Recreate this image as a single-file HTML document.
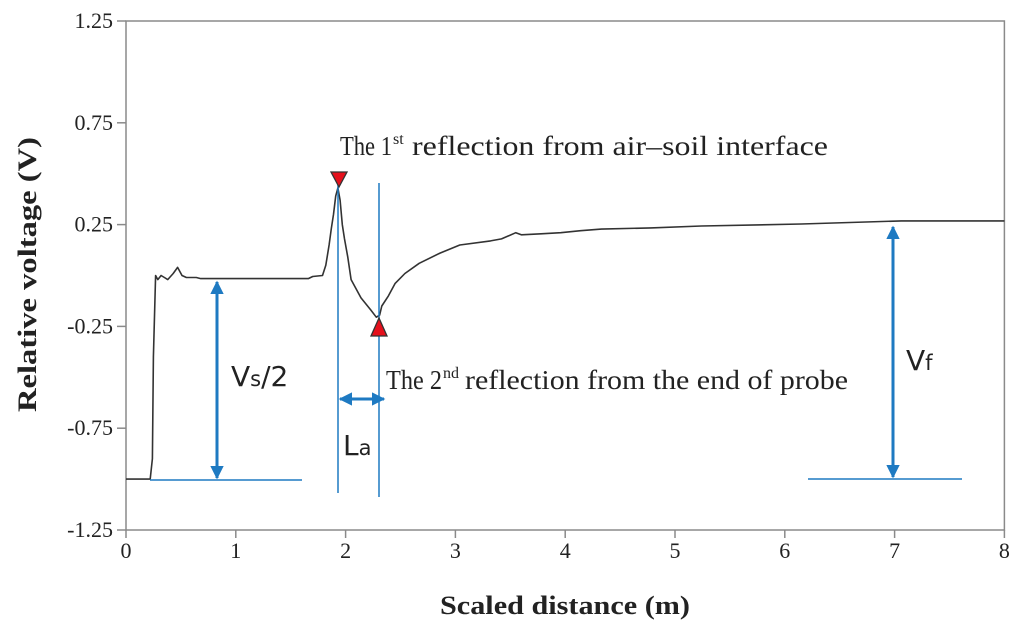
<!DOCTYPE html>
<html><head><meta charset="utf-8">
<style>
html,body{margin:0;padding:0;background:#fff;}
svg{display:block;}
.serif{font-family:"Liberation Serif",serif;}
.sans{font-family:"DejaVu Sans","Liberation Sans",sans-serif;}
</style></head>
<body>
<svg id="chart" width="1024" height="634" viewBox="0 0 1024 634" xmlns="http://www.w3.org/2000/svg">
<defs>
<marker id="ah" viewBox="0 0 10 10" refX="9" refY="5" markerWidth="4.5" markerHeight="4.5" orient="auto-start-reverse">
<path d="M0,0 L10,5 L0,10 z" fill="#1e7ac2"/>
</marker>
</defs>
<g id="axes"></g>
<g id="series"></g>
<g id="annot"></g>
</svg>
<script>
const xTicks = [0,1,2,3,4,5,6,7,8];
const yTicks = [1.25,0.75,0.25,-0.25,-0.75,-1.25];
const yTickLabels = ["1.25","0.75","0.25","-0.25","-0.75","-1.25"];
const distX = [0,0.22,0.24,0.25,0.27,0.29,0.32,0.35,0.38,0.43,0.47,0.48,0.51,0.55,0.64,0.68,1.66,1.70,1.79,1.82,1.85,1.87,1.89,1.91,1.93,1.95,1.97,1.99,2.02,2.05,2.14,2.23,2.28,2.31,2.33,2.39,2.45,2.54,2.67,2.86,3.04,3.32,3.42,3.55,3.60,3.78,3.96,4.14,4.33,4.78,5.24,6.15,7.06,8.0];
const voltY = [-1.0,-1.0,-0.9,-0.4,0.0,-0.02,0.0,-0.01,-0.02,0.01,0.04,0.03,0.0,-0.01,-0.01,-0.015,-0.015,-0.005,0.0,0.05,0.15,0.23,0.30,0.39,0.43,0.37,0.25,0.18,0.09,-0.02,-0.11,-0.17,-0.205,-0.195,-0.15,-0.10,-0.04,0.01,0.06,0.11,0.15,0.17,0.18,0.21,0.20,0.205,0.21,0.22,0.228,0.234,0.243,0.253,0.268,0.268];

const X0=126, XS=109.8, YT=21, YB=530;
const xs = v => X0 + v*XS;
const ys = v => YT + (1.25 - v)/2.5*(YB-YT);
const NS="http://www.w3.org/2000/svg";
function mk(tag, attrs, parent, text){
  const e=document.createElementNS(NS,tag);
  for(const k in attrs) e.setAttribute(k,attrs[k]);
  if(text!==undefined) e.textContent=text;
  parent.appendChild(e); return e;
}
const axes=document.getElementById('axes');
const frame=mk('rect',{x:X0,y:YT,width:xs(8)-X0,height:YB-YT,fill:'none',stroke:'#8a8a8a','stroke-width':1.5},axes);


xTicks.forEach(t=>{
  const l=mk('line',{x1:xs(t),x2:xs(t),y1:YB,y2:YB+8,stroke:'#8a8a8a','stroke-width':1.5},axes);
  
  
  const tx=mk('text',{x:xs(t),y:YB+28,'text-anchor':'middle','font-size':22,class:'serif',fill:'#222'},axes,String(t));
  
  
});
yTicks.forEach((t,i)=>{
  const l=mk('line',{x1:X0-9,x2:X0,y1:ys(t),y2:ys(t),stroke:'#8a8a8a','stroke-width':1.5},axes);
  
  
  const tx=mk('text',{x:X0-13,y:ys(t)+7,'text-anchor':'end','font-size':22,class:'serif',fill:'#222'},axes,yTickLabels[i]);
  
  
});
const xt=mk('text',{x:440,y:614,'font-size':26,'font-weight':'bold',class:'serif',fill:'#222',textLength:250,lengthAdjust:'spacingAndGlyphs'},axes,'Scaled distance (m)');


const yt=mk('text',{x:-140,y:0,'font-size':26,'font-weight':'bold',class:'serif',fill:'#222',transform:'translate(36,272) rotate(-90)',textLength:275,lengthAdjust:'spacingAndGlyphs'},axes,'Relative voltage (V)');



const series=document.getElementById('series');
const pts=distX.map((d,i)=>xs(d).toFixed(1)+','+ys(voltY[i]).toFixed(1)).join(' ');
const line=mk('polyline',{points:pts,fill:'none',stroke:'#333','stroke-width':1.6,'stroke-linejoin':'round'},series);



const an=document.getElementById('annot');
const B='#1e7ac2';
function ln(x1,y1,x2,y2,name,w,arrow){
  const a={x1,y1,x2,y2,stroke:B,'stroke-width':w||1.5};
  if(arrow){a['marker-start']='url(#ah)';a['marker-end']='url(#ah)';}
  const e=mk('line',a,an);
  
  
}
ln(150,480,302,480,'vs-baseline');
ln(217,282,217,478,'vs-arrow',3,true);
ln(808,479,962,479,'vf-baseline');
ln(893,227,893,477,'vf-arrow',3,true);
ln(338,180,338,493,'first-reflection-line');
ln(379,183,379,497,'second-reflection-line');
ln(340,399,384,399,'la-arrow',3,true);

const t1=mk('polygon',{points:'331,172 347,172 339,187',fill:'#e5101c',stroke:'#333','stroke-width':1.3},an);


const t2=mk('polygon',{points:'379,318 387,336 371,336',fill:'#e5101c',stroke:'#333','stroke-width':1.3},an);



function txt(x,y,size,s,len,name){
  const a={x,y,'font-size':size,class:'serif',fill:'#222'};
  if(len){a.textLength=len;a.lengthAdjust='spacingAndGlyphs';}
  const e=mk('text',a,an,s);
  
  
}
txt(340,155,27,'The 1',52,'first-reflection-label');
txt(393,144,16,'st',null,'first-reflection-superscript');
txt(412,155,27,'reflection from air–soil interface',416,'first-reflection-label-rest');
txt(386,389,27,'The 2',56,'second-reflection-label');
txt(443,378,16,'nd',null,'second-reflection-superscript');
txt(465,389,27,'reflection from the end of probe',383,'second-reflection-label-rest');

const v1=mk('text',{x:231,y:386,'font-size':28,class:'sans',fill:'#222'},an);
v1.innerHTML='V<tspan font-size="21">s</tspan>/2';


const v2=mk('text',{x:906,y:370,'font-size':28,class:'sans',fill:'#222'},an);
v2.innerHTML='V<tspan font-size="21">f</tspan>';


const v3=mk('text',{x:343,y:455,'font-size':28,class:'sans',fill:'#222'},an);
v3.innerHTML='L<tspan font-size="21">a</tspan>';


</script>
</body></html>
